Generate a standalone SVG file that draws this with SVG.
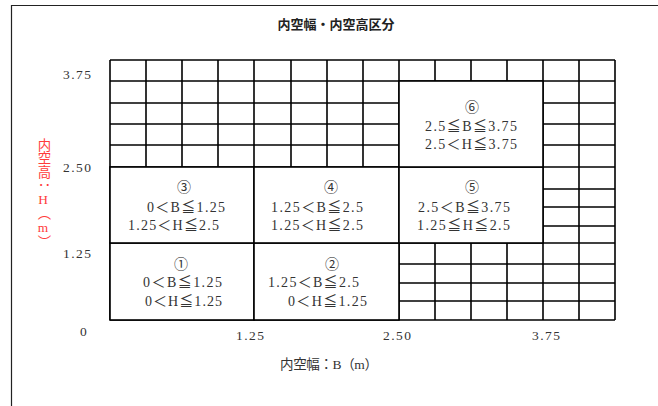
<svg xmlns="http://www.w3.org/2000/svg" width="658" height="406" viewBox="0 0 658 406">
<style>
.frame{fill:none;stroke:#222;stroke-width:1.2}
.g line{stroke:#000;stroke-width:1.6}
.reg{fill:#fff;stroke:#000;stroke-width:1.6}
.t{font-family:"Liberation Serif","Noto Sans CJK JP",serif;font-size:14px;fill:#333}
.c{text-anchor:middle}
.ax{font-family:"Liberation Serif","Noto Sans CJK JP",serif;font-size:13.5px;fill:#333}
.title{font-family:"Noto Sans CJK JP",sans-serif;font-size:13px;font-weight:bold;fill:#222;text-anchor:middle}
.xl{font-family:"Liberation Serif","Noto Sans CJK JP",serif;font-size:13.5px;fill:#333}
.yl{font-family:"Liberation Serif","Noto Sans CJK JP",serif;font-size:13.4px;fill:#ff3b3b;writing-mode:vertical-rl;text-orientation:upright}
</style>
<path class="frame" d="M11.5,406 V5.5 H658"/>
<text class="title" x="336" y="29">内空幅・内空高区分</text>

<g id="connectors" class="g">
  <!-- horizontals -->
  <line x1="110" y1="60" x2="615" y2="60"/>
  <line x1="110" y1="81" x2="615" y2="81"/>
  <line x1="110" y1="103" x2="399" y2="103"/>
  <line x1="110" y1="124" x2="399" y2="124"/>
  <line x1="110" y1="145" x2="399" y2="145"/>
  <line x1="543" y1="103" x2="615" y2="103"/>
  <line x1="543" y1="124" x2="615" y2="124"/>
  <line x1="543" y1="145" x2="615" y2="145"/>
  <line x1="110" y1="167" x2="615" y2="167"/>
  <line x1="543" y1="189" x2="615" y2="189"/>
  <line x1="543" y1="207" x2="615" y2="207"/>
  <line x1="543" y1="226" x2="615" y2="226"/>
  <line x1="110" y1="243" x2="615" y2="243"/>
  <line x1="399" y1="264" x2="615" y2="264"/>
  <line x1="399" y1="283" x2="615" y2="283"/>
  <line x1="399" y1="301" x2="615" y2="301"/>
  <line x1="110" y1="320" x2="615" y2="320"/>
  <!-- verticals -->
  <line x1="110" y1="60" x2="110" y2="320"/>
  <line x1="146" y1="60" x2="146" y2="167"/>
  <line x1="182" y1="60" x2="182" y2="167"/>
  <line x1="218" y1="60" x2="218" y2="167"/>
  <line x1="254" y1="60" x2="254" y2="320"/>
  <line x1="291" y1="60" x2="291" y2="167"/>
  <line x1="327" y1="60" x2="327" y2="167"/>
  <line x1="363" y1="60" x2="363" y2="167"/>
  <line x1="399" y1="60" x2="399" y2="320"/>
  <line x1="435" y1="60" x2="435" y2="81"/>
  <line x1="471" y1="60" x2="471" y2="81"/>
  <line x1="507" y1="60" x2="507" y2="81"/>
  <line x1="435" y1="243" x2="435" y2="320"/>
  <line x1="471" y1="243" x2="471" y2="320"/>
  <line x1="507" y1="243" x2="507" y2="320"/>
  <line x1="543" y1="60" x2="543" y2="320"/>
  <line x1="579" y1="60" x2="579" y2="320"/>
  <line x1="615" y1="60" x2="615" y2="320"/>
</g>

<g id="region1">
  <rect class="reg" x="110" y="243" width="144" height="77"/>
  <text class="t c" x="181" y="269">①</text>
  <text class="t" x="143" y="287" textLength="79" lengthAdjust="spacing">0＜B≦1.25</text>
  <text class="t" x="145" y="306" textLength="77" lengthAdjust="spacing">0＜H≦1.25</text>
</g>
<g id="region2">
  <rect class="reg" x="254" y="243" width="145" height="77"/>
  <text class="t c" x="332" y="269">②</text>
  <text class="t" x="268" y="287" textLength="91" lengthAdjust="spacing">1.25＜B≦2.5</text>
  <text class="t" x="288" y="306" textLength="79" lengthAdjust="spacing">0＜H≦1.25</text>
</g>
<g id="region3">
  <rect class="reg" x="110" y="167" width="144" height="76"/>
  <text class="t c" x="184" y="192">③</text>
  <text class="t" x="147" y="212" textLength="78" lengthAdjust="spacing">0＜B≦1.25</text>
  <text class="t" x="128" y="230" textLength="91" lengthAdjust="spacing">1.25＜H≦2.5</text>
</g>
<g id="region4">
  <rect class="reg" x="254" y="167" width="145" height="76"/>
  <text class="t c" x="331" y="192">④</text>
  <text class="t" x="271" y="212" textLength="92" lengthAdjust="spacing">1.25＜B≦2.5</text>
  <text class="t" x="271" y="230" textLength="92" lengthAdjust="spacing">1.25＜H≦2.5</text>
</g>
<g id="region5">
  <rect class="reg" x="399" y="167" width="144" height="76"/>
  <text class="t c" x="472" y="192">⑤</text>
  <text class="t" x="418" y="212" textLength="92" lengthAdjust="spacing">2.5＜B≦3.75</text>
  <text class="t" x="417" y="230" textLength="93" lengthAdjust="spacing">1.25≦H≦2.5</text>
</g>
<g id="region6">
  <rect class="reg" x="399" y="81" width="144" height="86"/>
  <text class="t c" x="472" y="112">⑥</text>
  <text class="t" x="425" y="131" textLength="92" lengthAdjust="spacing">2.5≦B≦3.75</text>
  <text class="t" x="425" y="149" textLength="92" lengthAdjust="spacing">2.5＜H≦3.75</text>
</g>

<g id="axis-y">
  <text class="ax" x="63" y="79" textLength="28" lengthAdjust="spacing">3.75</text>
  <text class="ax" x="63" y="172" textLength="28" lengthAdjust="spacing">2.50</text>
  <text class="ax" x="63" y="258" textLength="28" lengthAdjust="spacing">1.25</text>
  <text class="ax" x="80" y="336">0</text>
  <text class="yl" x="43" y="138">内空高：H（m）</text>
</g>
<g id="axis-x">
  <text class="ax" x="236" y="340" textLength="28" lengthAdjust="spacing">1.25</text>
  <text class="ax" x="383" y="340" textLength="28" lengthAdjust="spacing">2.50</text>
  <text class="ax" x="532" y="340" textLength="28" lengthAdjust="spacing">3.75</text>
  <text class="xl" x="280" y="369" textLength="98" lengthAdjust="spacing">内空幅：B（m）</text>
</g>
</svg>
